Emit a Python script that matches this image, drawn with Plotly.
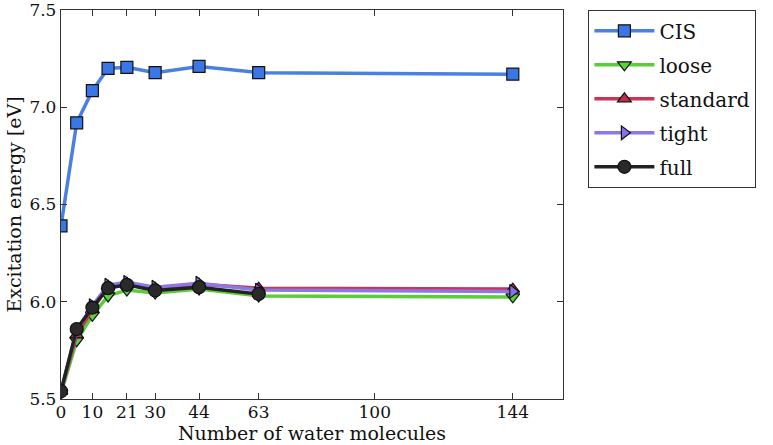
import plotly.graph_objects as go

x_all = [0, 5, 10, 15, 21, 30, 44, 63, 144]
x_full = [0, 5, 10, 15, 21, 30, 44, 63]
cis = [6.39, 6.92, 7.085, 7.20, 7.205, 7.178, 7.21, 7.178, 7.17]
loose = [5.53, 5.80, 5.93, 6.03, 6.06, 6.045, 6.065, 6.03, 6.025]
standard = [5.54, 5.83, 5.96, 6.08, 6.095, 6.07, 6.09, 6.07, 6.065]
tight = [5.54, 5.85, 5.98, 6.085, 6.10, 6.075, 6.095, 6.06, 6.053]
full = [5.54, 5.86, 5.97, 6.07, 6.087, 6.058, 6.075, 6.04]
x_ticks = [0, 10, 21, 30, 44, 63, 100, 144]
y_ticks = [5.5, 6.0, 6.5, 7.0, 7.5]
y_tick_text = ["5.5", "6.0", "6.5", "7.0", "7.5"]

FONT = "DejaVu Serif"

series = [
    ("CIS", x_all, cis, "#4a80e0", "#3a76e6", "square", 12),
    ("loose", x_all, loose, "#5ccc3c", "#5ad23a", "triangle-down", 12),
    ("standard", x_all, standard, "#cc3358", "#c22a52", "triangle-up", 12),
    ("tight", x_all, tight, "#8a78e6", "#8472ea", "triangle-right", 12),
    ("full", x_full, full, "#222222", "#2a2a2a", "circle", 13),
]

fig = go.Figure()
for i, (name, xs, ys, lc, mc, sym, sz) in enumerate(series):
    fig.add_trace(go.Scatter(
        x=xs, y=ys, name=name, mode="lines+markers",
        legendgroup=f"g{i}",
        line=dict(color=lc, width=3.5),
        marker=dict(symbol=sym, size=sz, color=mc,
                    line=dict(color="#111111", width=1.2)),
    ))

axis_common = dict(
    showline=True, linecolor="#333333", linewidth=1.3, mirror="ticks",
    ticks="inside", ticklen=6, tickcolor="#333333", tickwidth=1,
    showgrid=False, zeroline=False, automargin=False,
    ticklabeloverflow="allow",
    tickfont=dict(family=FONT, size=17, color="#111111"),
)

fig.update_layout(
    width=773, height=445,
    margin=dict(l=61, r=210, t=10, b=46),
    paper_bgcolor="white", plot_bgcolor="white",
    font=dict(family=FONT, color="#111111"),
    xaxis=dict(range=[0, 160], tickvals=x_ticks, ticklabelstandoff=-3,
               title=dict(text="Number of water molecules", standoff=2,
                          font=dict(family=FONT, size=19)),
               **axis_common),
    yaxis=dict(range=[5.5, 7.5], tickvals=y_ticks, ticktext=y_tick_text,
               title=dict(text="Excitation energy [eV]", standoff=2,
                          font=dict(family=FONT, size=19)),
               **axis_common),
    legend=dict(x=1.05, y=1.0, xanchor="left", yanchor="top",
                bordercolor="#333333", borderwidth=1.3,
                font=dict(family=FONT, size=20),
                tracegroupgap=5, itemwidth=60),
    showlegend=True,
)

fig.write_html("out.html",
               config={"displayModeBar": False},
               post_script="document.body.style.margin='0px';")
